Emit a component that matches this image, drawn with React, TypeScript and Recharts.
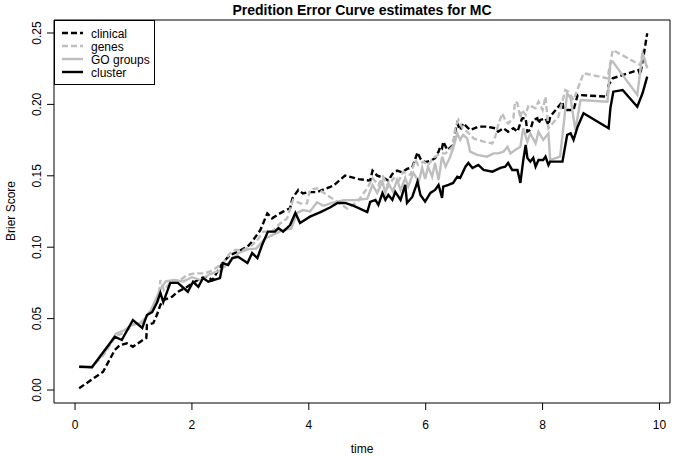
import React from 'react';
import { LineChart, Line, XAxis, YAxis, ReferenceArea } from 'recharts';

const chartTitle = 'Predition Error Curve estimates for MC';
const xLabel = 'time';
const yLabel = 'Brier Score';
const xTicks = [0, 2, 4, 6, 8, 10];
const yTicks = [0, 0.05, 0.1, 0.15, 0.2, 0.25];
const seriesNames = ['clinical', 'genes', 'GO groups', 'cluster'];

const clinical: [number, number][] = [
  [0.07, 0.0012], [0.48, 0.0128], [0.68, 0.028], [0.77, 0.0315], [0.89, 0.0327], [0.99, 0.0303],
  [1.16, 0.035], [1.22, 0.0364], [1.23, 0.0455], [1.34, 0.0469], [1.4, 0.0525], [1.46, 0.0595],
  [1.51, 0.063], [1.66, 0.0653], [1.76, 0.0688], [1.92, 0.0723], [2.14, 0.0782], [2.26, 0.0794],
  [2.35, 0.077], [2.52, 0.0887], [2.65, 0.0945], [2.79, 0.0969], [2.95, 0.1004], [3.03, 0.1039],
  [3.17, 0.112], [3.29, 0.1237], [3.37, 0.1202], [3.46, 0.1226], [3.56, 0.1249], [3.68, 0.1273],
  [3.72, 0.1343], [3.82, 0.1401], [3.9, 0.1377], [3.99, 0.1386], [4.14, 0.1386], [4.28, 0.1408],
  [4.42, 0.1431], [4.62, 0.1501], [4.74, 0.1489], [4.85, 0.1477], [5.05, 0.1466], [5.09, 0.1536],
  [5.17, 0.1501], [5.26, 0.1489], [5.36, 0.1466], [5.43, 0.1513], [5.51, 0.1536], [5.6, 0.1524],
  [5.68, 0.1548], [5.77, 0.1559], [5.86, 0.1664], [5.91, 0.162], [5.99, 0.1595], [6.08, 0.1605],
  [6.16, 0.1623], [6.22, 0.1669], [6.25, 0.1704], [6.28, 0.1693], [6.3, 0.1739], [6.37, 0.1681],
  [6.47, 0.1716], [6.51, 0.1821], [6.54, 0.1867], [6.59, 0.1821], [6.64, 0.1867], [6.76, 0.1821],
  [6.9, 0.1844], [7.05, 0.1844], [7.19, 0.1833], [7.24, 0.1809], [7.33, 0.1833], [7.41, 0.1809],
  [7.5, 0.1833], [7.57, 0.1809], [7.65, 0.1903], [7.71, 0.1903], [7.74, 0.1809], [7.79, 0.1821],
  [7.84, 0.1891], [7.91, 0.1903], [7.93, 0.1867], [7.96, 0.1891], [8.05, 0.1903], [8.1, 0.1856],
  [8.13, 0.1914], [8.34, 0.2019], [8.36, 0.1961], [8.44, 0.1961], [8.53, 0.1961], [8.6, 0.2066],
  [9.11, 0.2054], [9.13, 0.2136], [9.2, 0.2183], [9.64, 0.2241], [9.67, 0.2206], [9.73, 0.2346],
  [9.79, 0.2498],
];

const genes: [number, number][] = [
  [0.07, 0.0165], [0.29, 0.016], [0.5, 0.025], [0.7, 0.038], [0.85, 0.04], [0.99, 0.0455],
  [1.15, 0.048], [1.3, 0.056], [1.42, 0.062], [1.46, 0.077], [1.52, 0.07], [1.65, 0.076],
  [1.8, 0.077], [1.92, 0.0805], [2.05, 0.0817], [2.23, 0.0817], [2.36, 0.084], [2.53, 0.0887],
  [2.65, 0.0957], [2.74, 0.098], [2.88, 0.098], [3.0, 0.1004], [3.12, 0.105], [3.22, 0.1109],
  [3.37, 0.1109], [3.51, 0.1167], [3.63, 0.1202], [3.73, 0.1331], [3.85, 0.1307], [3.97, 0.1307],
  [4.02, 0.1401], [4.14, 0.1413], [4.66, 0.127], [4.83, 0.1317], [5.0, 0.1413], [5.09, 0.1483],
  [5.19, 0.1436], [5.27, 0.1494], [5.36, 0.1424], [5.45, 0.1483], [5.53, 0.1459], [5.62, 0.1529],
  [5.74, 0.1506], [5.82, 0.1611], [5.87, 0.1576], [5.96, 0.1599], [6.04, 0.1576], [6.13, 0.1625],
  [6.25, 0.1657], [6.34, 0.1657], [6.46, 0.1704], [6.51, 0.1844], [6.56, 0.1891], [6.63, 0.1833],
  [6.71, 0.1809], [6.82, 0.1762], [6.99, 0.1739], [7.14, 0.1727], [7.19, 0.1774], [7.24, 0.1856],
  [7.31, 0.1937], [7.36, 0.1891], [7.41, 0.1867], [7.5, 0.1903], [7.53, 0.202], [7.57, 0.2008],
  [7.62, 0.1903], [7.65, 0.1961], [7.71, 0.1926], [7.76, 0.1996], [7.88, 0.1973], [7.93, 0.202],
  [8.0, 0.1961], [8.05, 0.2054], [8.08, 0.1914], [8.1, 0.1833], [8.27, 0.1914], [8.39, 0.2101],
  [8.44, 0.2089], [8.53, 0.2031], [8.7, 0.2218], [9.11, 0.2183], [9.2, 0.2381], [9.67, 0.2276],
  [9.71, 0.2358], [9.79, 0.2264],
];

const goGroups: [number, number][] = [
  [0.07, 0.016], [0.29, 0.0165], [0.5, 0.026], [0.7, 0.0395], [0.85, 0.042], [0.99, 0.046],
  [1.15, 0.047], [1.3, 0.056], [1.45, 0.07], [1.55, 0.076], [1.7, 0.077], [1.85, 0.076],
  [2.0, 0.079], [2.15, 0.077], [2.3, 0.081], [2.5, 0.084], [2.65, 0.09], [2.8, 0.096],
  [2.95, 0.0985], [3.1, 0.099], [3.25, 0.106], [3.4, 0.109], [3.55, 0.112], [3.7, 0.113],
  [3.8, 0.124], [3.9, 0.126], [4.02, 0.125], [4.14, 0.1315], [4.25, 0.129], [4.4, 0.131],
  [4.6, 0.133], [4.8, 0.133], [5.0, 0.134], [5.09, 0.1435], [5.17, 0.138], [5.26, 0.146],
  [5.31, 0.138], [5.36, 0.145], [5.44, 0.1389], [5.51, 0.1471], [5.57, 0.1401], [5.65, 0.1485],
  [5.7, 0.1424], [5.79, 0.152], [5.88, 0.1459], [5.94, 0.1555], [5.99, 0.1478], [6.04, 0.1564],
  [6.11, 0.1494], [6.16, 0.159], [6.22, 0.1471], [6.28, 0.1634], [6.34, 0.1564], [6.42, 0.1634],
  [6.47, 0.1692], [6.54, 0.1797], [6.59, 0.1751], [6.64, 0.1786], [6.71, 0.1762], [6.76, 0.1669],
  [6.88, 0.1646], [7.05, 0.1634], [7.16, 0.1657], [7.24, 0.1657], [7.33, 0.1669], [7.4, 0.1704],
  [7.45, 0.1657], [7.53, 0.1681], [7.62, 0.1704], [7.67, 0.1833], [7.74, 0.1739], [7.79, 0.1797],
  [7.88, 0.1727], [7.93, 0.1809], [8.01, 0.1751], [8.1, 0.1797], [8.13, 0.1611], [8.3, 0.1634],
  [8.42, 0.2078], [8.48, 0.2043], [8.56, 0.1821], [8.65, 0.2031], [9.11, 0.2019], [9.16, 0.2288],
  [9.2, 0.23], [9.62, 0.2066], [9.71, 0.2358], [9.79, 0.2253],
];

const cluster: [number, number][] = [
  [0.07, 0.0163], [0.29, 0.0159], [0.68, 0.0373], [0.8, 0.035], [0.99, 0.049], [1.15, 0.0434],
  [1.23, 0.0525], [1.32, 0.0546], [1.4, 0.061], [1.46, 0.068], [1.51, 0.0616], [1.63, 0.075],
  [1.76, 0.075], [1.93, 0.0688], [2.02, 0.0758], [2.11, 0.0723], [2.19, 0.0784], [2.28, 0.0758],
  [2.48, 0.0784], [2.53, 0.0889], [2.62, 0.0875], [2.69, 0.0924], [2.79, 0.0933], [2.95, 0.0889],
  [3.03, 0.0959], [3.12, 0.0924], [3.2, 0.1015], [3.3, 0.1109], [3.42, 0.1109], [3.48, 0.1134],
  [3.56, 0.1109], [3.68, 0.1155], [3.77, 0.124], [3.85, 0.117], [4.02, 0.1214], [4.2, 0.1246],
  [4.37, 0.128], [4.49, 0.131], [4.62, 0.131], [4.76, 0.1291], [5.0, 0.1246], [5.05, 0.1317],
  [5.14, 0.1331], [5.19, 0.1296], [5.26, 0.1379], [5.31, 0.1331], [5.36, 0.1366], [5.43, 0.1331],
  [5.48, 0.1387], [5.57, 0.1331], [5.65, 0.1436], [5.68, 0.131], [5.77, 0.1352], [5.86, 0.1459],
  [5.91, 0.1366], [5.99, 0.1319], [6.08, 0.138], [6.16, 0.1401], [6.22, 0.1436], [6.28, 0.1345],
  [6.3, 0.1424], [6.39, 0.1436], [6.47, 0.145], [6.54, 0.1494], [6.59, 0.1485], [6.68, 0.1564],
  [6.73, 0.159], [6.8, 0.1555], [6.9, 0.1576], [6.99, 0.1541], [7.14, 0.1529], [7.28, 0.1555],
  [7.36, 0.1564], [7.41, 0.159], [7.48, 0.1541], [7.57, 0.1541], [7.62, 0.145], [7.67, 0.1611],
  [7.71, 0.1716], [7.74, 0.1625], [7.79, 0.1599], [7.84, 0.1625], [7.88, 0.1564], [7.93, 0.1611],
  [8.01, 0.1611], [8.05, 0.1634], [8.1, 0.1576], [8.13, 0.1599], [8.34, 0.1599], [8.42, 0.1786],
  [8.48, 0.1797], [8.53, 0.1751], [8.6, 0.1844], [8.7, 0.1938], [9.13, 0.1833], [9.16, 0.1974],
  [9.21, 0.2089], [9.37, 0.2101], [9.62, 0.1984], [9.71, 0.2078], [9.79, 0.2194],
];

const FONT = '"Liberation Sans", Arial, Helvetica, sans-serif';
const GREY = '#BEBEBE';
const toRows = (pts: [number, number][]) => pts.map(([t, v]) => ({ t, v }));

const styles = [
  { color: '#000000', dash: '6 3' },
  { color: GREY, dash: '6 3' },
  { color: GREY, dash: undefined },
  { color: '#000000', dash: undefined },
];
const seriesData = [clinical, genes, goGroups, cluster];

const XDOM: [number, number] = [-0.36, 10.18];
const YDOM: [number, number] = [-0.0091, 0.2591];

const YTick = (props: any) => {
  const { y, payload } = props;
  return (
    <text x={41} y={y} transform={`rotate(-90, 41, ${y})`} textAnchor="middle" fontSize={12} fontFamily={FONT} fill="#000">
      {Number(payload.value).toFixed(2)}
    </text>
  );
};

const XTick = (props: any) => {
  const { x, payload } = props;
  return (
    <text x={x} y={429} textAnchor="middle" fontSize={12} fontFamily={FONT} fill="#000">
      {payload.value}
    </text>
  );
};

export default function App() {
  return (
    <div style={{ position: 'absolute', left: 0, top: 0, width: 685, height: 456, background: '#fff' }}>
      <LineChart width={685} height={456} margin={{ top: 20, right: 15, bottom: 0, left: 0 }}>
        <XAxis
          type="number"
          dataKey="t"
          domain={XDOM}
          ticks={xTicks}
          allowDataOverflow
          axisLine={false}
          tickLine={{ stroke: '#000' }}
          tickSize={7}
          tick={<XTick />}
          height={53}
        />
        <YAxis
          type="number"
          dataKey="v"
          domain={YDOM}
          ticks={yTicks}
          allowDataOverflow
          axisLine={false}
          tickLine={{ stroke: '#000' }}
          tickSize={7}
          tick={<YTick />}
          width={54}
        />
        {seriesData.map((pts, i) => (
          <Line
            key={seriesNames[i]}
            name={seriesNames[i]}
            data={toRows(pts)}
            dataKey="v"
            type="linear"
            stroke={styles[i].color}
            strokeDasharray={styles[i].dash}
            strokeWidth={2.4}
            dot={false}
            activeDot={false}
            isAnimationActive={false}
          />
        ))}
        <ReferenceArea
          x1={XDOM[0]}
          x2={XDOM[1]}
          y1={YDOM[0]}
          y2={YDOM[1]}
          fill="none"
          fillOpacity={0}
          stroke="#000"
          strokeWidth={1}
          ifOverflow="visible"
        />
      </LineChart>
      <svg width={685} height={456} style={{ position: 'absolute', left: 0, top: 0, pointerEvents: 'none' }}>
        <text x={362} y={15} textAnchor="middle" fontSize={14} fontWeight="bold" fontFamily={FONT} fill="#000">
          {chartTitle}
        </text>
        <text x={362} y={453} textAnchor="middle" fontSize={12} fontFamily={FONT} fill="#000">
          {xLabel}
        </text>
        <text x={15} y={211} transform="rotate(-90, 15, 211)" textAnchor="middle" fontSize={12} fontFamily={FONT} fill="#000">
          {yLabel}
        </text>
        <rect x={54.5} y={20.5} width={100} height={64} fill="#fff" stroke="#000" strokeWidth={1} />
        {seriesNames.map((name, i) => (
          <g key={name}>
            <line
              x1={62}
              x2={83}
              y1={33 + 13 * i}
              y2={33 + 13 * i}
              stroke={styles[i].color}
              strokeWidth={2.4}
              strokeDasharray={styles[i].dash}
            />
            <text x={91} y={37.5 + 13 * i} fontSize={12} fontFamily={FONT} fill="#000">
              {name}
            </text>
          </g>
        ))}
      </svg>
    </div>
  );
}
